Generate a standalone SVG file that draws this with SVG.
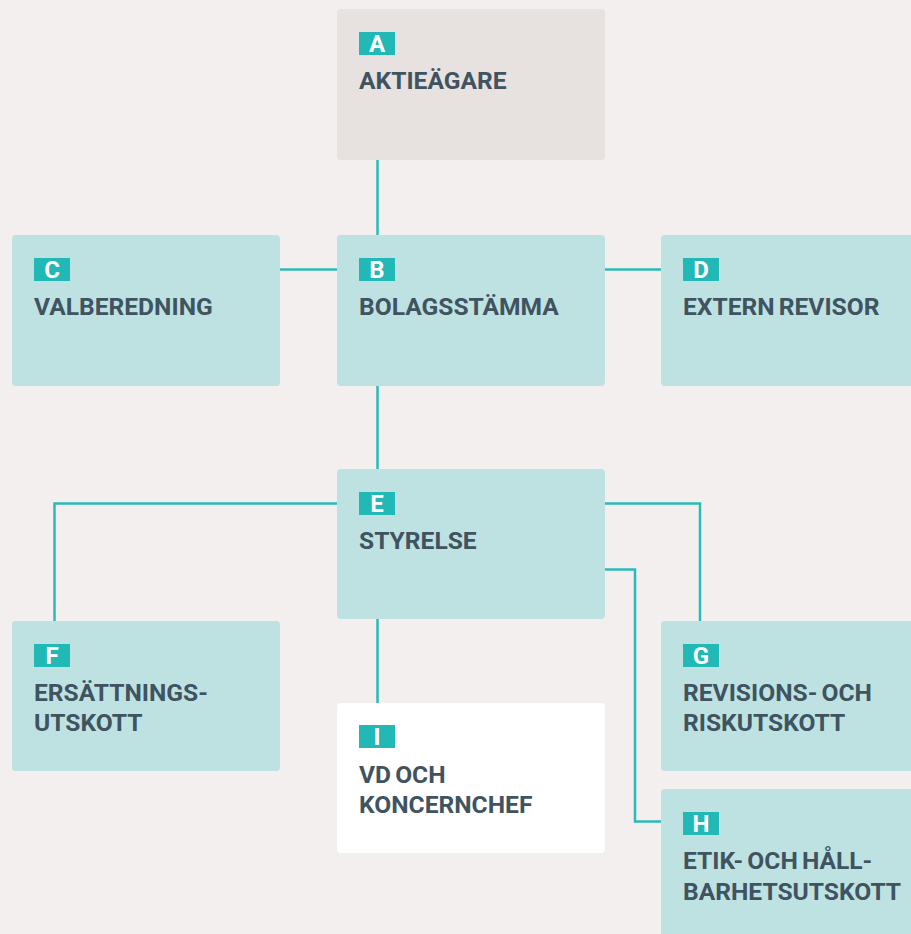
<svg xmlns="http://www.w3.org/2000/svg" width="911" height="934" viewBox="0 0 911 934">
<style>
.bg{fill:#f3efee}
.box{fill:#bee2e2}
.boxa{fill:#e7e2df}
.boxi{fill:#ffffff}
.badge{fill:#22b8b6}
.bl{font-family:Roboto,"Liberation Sans",sans-serif;font-weight:bold;font-size:24px;fill:#ffffff;text-anchor:middle}
.t{font-family:Roboto,"Liberation Sans",sans-serif;font-weight:bold;font-size:24.6px;word-spacing:-2px;fill:#3f5360}
.c{fill:none;stroke:#2bbab6;stroke-width:2.5}
</style>
<rect class="bg" x="0" y="0" width="911" height="934"/>
<g id="connectors">
<path class="c" d="M377.5,160 V235"/>
<path class="c" d="M280,269.5 H337"/>
<path class="c" d="M605,269.5 H661"/>
<path class="c" d="M377.5,386 V469"/>
<path class="c" d="M337,503.5 H54.5 V621"/>
<path class="c" d="M605,503.5 H700 V621"/>
<path class="c" d="M605,569.5 H635 V821.5 H661"/>
<path class="c" d="M377.5,619 V703"/>
</g>
<g id="A">
<rect class="boxa" x="337" y="9" width="268" height="151" rx="4"/>
<rect class="badge" x="359" y="32" width="36" height="23"/>
<text class="bl" x="377" y="52">A</text>
<text class="t" x="359" y="89">AKTIEÄGARE</text>
</g>
<g id="B">
<rect class="box" x="337" y="235" width="268" height="151" rx="4"/>
<rect class="badge" x="359" y="258" width="36" height="23"/>
<text class="bl" x="377" y="278">B</text>
<text class="t" x="359" y="315">BOLAGSSTÄMMA</text>
</g>
<g id="C">
<rect class="box" x="12" y="235" width="268" height="151" rx="4"/>
<rect class="badge" x="34" y="258" width="36" height="23"/>
<text class="bl" x="52" y="278">C</text>
<text class="t" x="34" y="315">VALBEREDNING</text>
</g>
<g id="D">
<rect class="box" x="661" y="235" width="268" height="151" rx="4"/>
<rect class="badge" x="683" y="258" width="36" height="23"/>
<text class="bl" x="701" y="278">D</text>
<text class="t" x="683" y="315">EXTERN REVISOR</text>
</g>
<g id="E">
<rect class="box" x="337" y="469" width="268" height="150" rx="4"/>
<rect class="badge" x="359" y="492" width="36" height="23"/>
<text class="bl" x="377" y="512">E</text>
<text class="t" x="359" y="549">STYRELSE</text>
</g>
<g id="F">
<rect class="box" x="12" y="621" width="268" height="150" rx="4"/>
<rect class="badge" x="34" y="644" width="36" height="23"/>
<text class="bl" x="52" y="664">F</text>
<text class="t" x="34" y="701">ERSÄTTNINGS-</text>
<text class="t" x="34" y="731">UTSKOTT</text>
</g>
<g id="G">
<rect class="box" x="661" y="621" width="268" height="150" rx="4"/>
<rect class="badge" x="683" y="644" width="36" height="23"/>
<text class="bl" x="701" y="664">G</text>
<text class="t" x="683" y="701">REVISIONS- OCH</text>
<text class="t" x="683" y="731">RISKUTSKOTT</text>
</g>
<g id="I">
<rect class="boxi" x="337" y="703" width="268" height="150" rx="4"/>
<rect class="badge" x="359" y="725" width="36" height="23"/>
<text class="bl" x="377" y="745">I</text>
<text class="t" x="359" y="783">VD OCH</text>
<text class="t" x="359" y="813">KONCERNCHEF</text>
</g>
<g id="H">
<rect class="box" x="661" y="789" width="268" height="160" rx="4"/>
<rect class="badge" x="683" y="812" width="36" height="23"/>
<text class="bl" x="701" y="832">H</text>
<text class="t" x="683" y="869">ETIK- OCH HÅLL-</text>
<text class="t" x="683" y="900">BARHETSUTSKOTT</text>
</g>
</svg>
